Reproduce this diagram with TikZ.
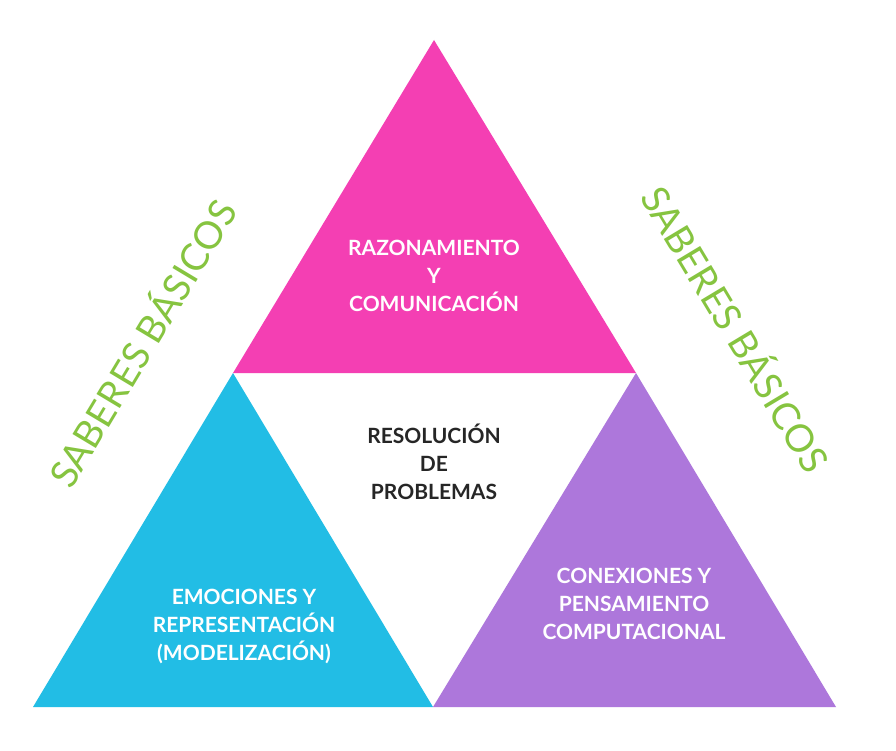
\documentclass[tikz,border=0pt]{standalone}
\usepackage{fontspec}
\setmainfont{Lato}
\definecolor{rosa}{HTML}{F43FB3}
\definecolor{celeste}{HTML}{22BDE5}
\definecolor{lila}{HTML}{AD77DB}
\definecolor{verde}{HTML}{86C440}
\tikzset{
  etiqueta/.style={text=white, font=\bfseries\fontsize{21}{28}\selectfont, align=center},
  saberes/.style={text=verde, font=\fontsize{38}{40}\selectfont}
}
\begin{document}
\begin{tikzpicture}[x=1pt, y=-1pt]
  \useasboundingbox[fill=white] (0,0) rectangle (896,751);
  % triangulos
  \fill[rosa] (434,40) -- (636,373) -- (233,373) -- cycle;
  \fill[celeste] (233,373) -- (433,707) -- (33,707) -- cycle;
  \fill[lila] (636,373) -- (836,707) -- (433,707) -- cycle;
  % textos
  \node[etiqueta] (razonamiento) at (434,276) {RAZONAMIENTO\\Y\\COMUNICACIÓN};
  \node[etiqueta, text=black!85] (resolucion) at (434,462) {RESOLUCIÓN\\DE\\PROBLEMAS};
  \node[etiqueta] (emociones) at (244,626) {EMOCIONES Y\\REPRESENTACIÓN\\(MODELIZACIÓN)};
  \node[etiqueta] (conexiones) at (634,604) {CONEXIONES Y\\PENSAMIENTO\\COMPUTACIONAL};
  \node[saberes, rotate=59] (saberesizq) at (140,342) {SABERES BÁSICOS};
  \node[saberes, rotate=-59] (saberesder) at (738,328) {SABERES BÁSICOS};
\end{tikzpicture}
\end{document}
